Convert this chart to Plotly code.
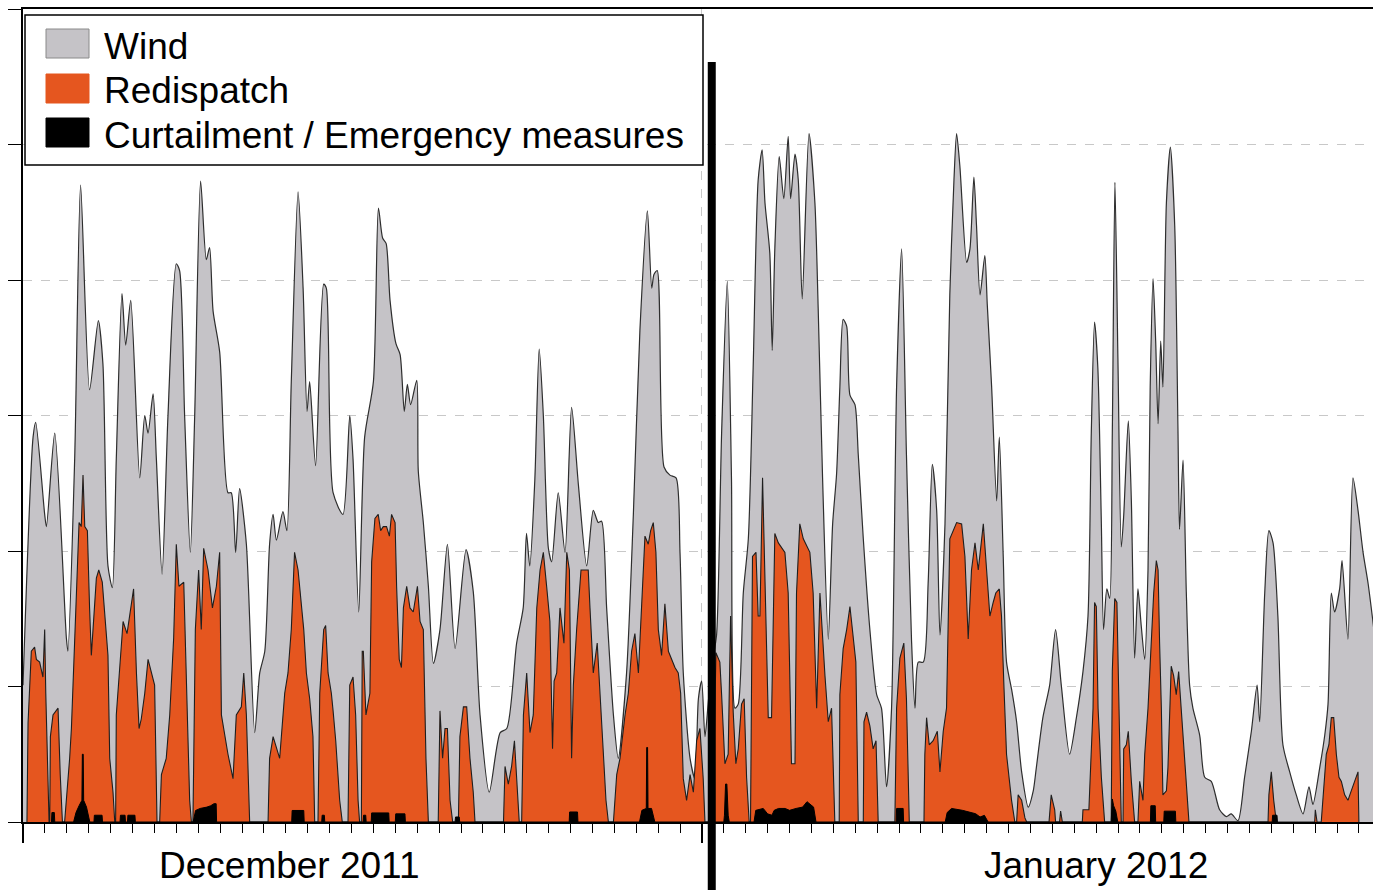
import pandas as pd
import plotly.graph_objects as go

BASE = pd.Timestamp("2011-12-01")

# ---- Wind generation (days since 1 Dec 2011, value) ----
wind_days = [0.00, 0.46, 0.58, 0.99, 1.07, 1.45, 1.98, 2.05, 2.36, 2.63, 3.04, 3.44, 3.65, 3.88, 4.08, 4.26,
             4.52, 4.69, 4.92, 5.33, 5.56, 5.71, 5.94, 6.09, 6.35, 6.62, 7.00, 7.15, 7.38, 7.64, 7.84, 8.11,
             8.37, 8.52, 8.68, 8.98, 9.36, 9.51, 9.71, 9.89, 10.20, 10.58, 10.81, 11.04, 11.26, 11.42, 11.57,
             11.87, 12.05, 12.25, 12.56, 12.79, 12.97, 13.09, 13.36, 13.73, 13.85, 14.16, 14.61, 14.92, 15.07,
             15.33, 15.60, 16.00, 16.23, 16.42, 16.58, 16.76, 17.03, 17.22, 17.41, 17.55, 17.70, 17.98, 18.05,
             18.28, 18.51, 18.74, 19.04, 19.38, 19.73, 20.23, 20.56, 20.87, 21.29, 21.79, 22.09, 22.54, 22.84,
             22.99, 23.14, 23.37, 23.57, 23.76, 23.99, 24.14, 24.44, 24.75, 25.05, 25.36, 25.74, 26.04, 26.27,
             26.42, 26.65, 26.96, 27.18, 27.56, 27.87, 28.17, 28.51, 28.71, 28.81, 28.96, 29.27, 29.54, 29.82,
             30.00, 30.15, 30.46, 30.68, 30.84, 30.99, 31.14, 31.30, 31.50, 31.67, 31.90, 32.16, 32.35, 32.51,
             32.66, 32.89, 33.12, 33.34, 33.57, 33.75, 33.88, 34.10, 34.21, 34.33, 34.53, 34.74, 34.94, 35.05,
             35.25, 35.40, 35.58, 35.89, 36.16, 36.31, 36.51, 36.77, 36.97, 37.15, 37.30, 37.45, 37.61, 37.76,
             37.99, 38.14, 38.37, 38.67, 38.98, 39.20, 39.43, 39.66, 39.89, 40.12, 40.34, 40.57, 40.73, 40.88,
             41.11, 41.33, 41.52, 41.72, 41.87, 42.10, 42.32, 42.51, 42.63, 42.78, 43.09, 43.24, 43.42, 43.54,
             43.70, 43.92, 44.03, 44.23, 44.46, 44.58, 44.76, 44.91, 45.14, 45.37, 45.60, 45.90, 46.13, 46.27,
             46.57, 46.88, 47.15, 47.41, 47.79, 48.10, 48.40, 48.63, 48.78, 48.93, 49.08, 49.24, 49.34, 49.49,
             49.62, 49.74, 49.86, 50.00, 50.15, 50.26, 50.47, 50.61, 50.76, 50.91, 51.06, 51.22, 51.37, 51.47,
             51.60, 51.72, 51.83, 51.95, 52.05, 52.21, 52.39, 52.59, 52.74, 52.81, 52.97, 53.12, 53.27, 53.42,
             53.73, 53.96, 54.26, 54.64, 54.95, 55.17, 55.48, 55.78, 56.09, 56.35, 56.47, 56.70, 56.89, 57.08,
             57.30, 57.53, 57.84, 58.14, 58.45, 58.72, 58.90, 59.21, 59.44, 59.59, 59.74, 59.89, 60.12, 60.23,
             60.50, 60.73, 60.96, 61.19, 61.42, 61.70]
wind_vals = [1.01, 2.84, 2.95, 2.27, 2.18, 2.87, 1.36, 1.26, 2.68, 4.70, 3.19, 3.70, 3.38, 1.89, 1.73, 2.68,
             3.90, 3.52, 3.85, 2.54, 3.00, 2.87, 3.16, 2.68, 1.83, 3.00, 4.12, 4.07, 3.00, 1.99, 3.00, 4.73,
             4.15, 4.24, 3.77, 3.47, 2.43, 2.43, 1.99, 2.46, 2.05, 0.66, 1.10, 1.26, 2.05, 2.27, 2.08,
             2.29, 2.15, 3.25, 4.65, 3.94, 3.03, 3.25, 2.63, 3.97, 3.94, 2.43, 2.27, 3.00, 2.68,
             1.55, 2.84, 3.25, 4.53, 4.31, 4.27, 3.85, 3.53, 3.45, 3.03, 3.23, 3.08, 3.26, 2.59,
             2.21, 1.74, 1.17, 1.42, 2.05, 1.28, 2.01, 1.70, 0.79, 0.22, 0.66, 0.69, 1.32, 1.58,
             2.13, 1.89, 2.52, 3.49, 3.00, 2.02, 1.92, 2.43, 1.99, 3.06, 2.49, 1.89, 2.30, 2.21,
             2.22, 1.58, 0.79, 0.47, 1.10, 2.27, 3.63, 4.51, 3.94, 4.04, 4.07, 2.62, 2.56, 2.54,
             1.99, 1.10, 0.47, 0.32, 0.91, 1.04, 0.63, 0.90, 1.20, 1.38, 2.87, 3.99, 2.54, 0.84,
             0.87, 1.69, 2.09, 3.35, 4.74, 4.96, 4.57, 4.20, 3.48, 4.23, 4.91, 4.60, 5.06, 4.60,
             4.93, 4.74, 3.86, 5.08, 4.57, 3.79, 2.54, 1.35, 2.20, 2.57, 3.21, 3.71, 3.66, 3.15,
             3.08, 2.71, 2.09, 1.42, 0.94, 0.84, 0.26, 0.84, 3.21, 4.23, 2.71, 1.35, 0.84, 1.18,
             1.18, 1.76, 2.64, 2.30, 1.38, 2.20, 3.89, 4.74, 5.08, 4.84, 4.13, 4.23, 4.76, 4.40,
             3.89, 4.18, 3.82, 3.21, 2.37, 2.84, 1.96, 1.18, 0.98, 0.74, 0.37, 0.11, 0.23, 0.40,
             0.77, 1.01, 1.42, 1.01, 0.50, 0.77, 1.11, 1.52, 2.87, 3.69, 3.35, 2.20, 1.42, 1.72,
             1.65, 2.87, 4.72, 3.38, 2.03, 2.26, 2.96, 2.37, 1.21, 1.72, 1.45, 1.20, 1.86, 3.21,
             4.01, 3.55, 2.94, 3.55, 3.21, 4.57, 4.98, 4.40, 2.87, 2.16, 2.67, 1.69, 1.01, 0.84,
             0.64, 0.33, 0.30, 0.09, 0.04, 0.06, 0.01, 0.33, 0.67, 1.01, 0.74, 1.69, 2.15, 2.06,
             1.52, 0.57, 0.37, 0.20, 0.06, 0.26, 0.13, 0.40, 0.64, 0.87, 1.69, 1.55, 1.72, 1.93,
             1.35, 2.54, 2.30, 1.99, 1.76, 1.40]

# ---- Redispatch (days since 1 Dec 2011, value) ----
red_days = [0.18, 0.23, 0.38, 0.53, 0.61, 0.76, 0.91, 0.99, 1.04, 1.14, 1.19,
            1.22, 1.25, 1.37, 1.60, 1.70, 1.80,
            1.90, 1.98, 2.13, 2.21, 2.31, 2.44, 2.56, 2.66, 2.74, 2.82, 2.94, 3.04, 3.12, 3.35, 3.46, 3.62,
            3.77, 3.88, 3.96, 4.11, 4.19,
            4.23, 4.26, 4.41, 4.57, 4.75, 4.90, 5.05, 5.18, 5.30, 5.40, 5.56, 5.71, 5.86, 6.01, 6.12,
            6.24, 6.32, 6.54, 6.70, 6.88, 7.00, 7.12, 7.34, 7.46, 7.61, 7.69,
            7.76, 7.87, 8.02, 8.14, 8.25, 8.45, 8.65, 8.83, 8.98, 9.06, 9.21, 9.36, 9.59, 9.74, 9.97,
            10.08, 10.20, 10.35,
            11.19, 11.26, 11.42, 11.72, 11.95, 12.10, 12.25, 12.40, 12.56, 12.71, 12.82, 12.94, 13.09,
            13.24, 13.32,
            13.47, 13.55, 13.73, 13.82, 13.93, 14.08, 14.16, 14.28, 14.46, 14.58,
            14.84, 14.92, 15.07, 15.19, 15.30, 15.37,
            15.45, 15.49, 15.54, 15.66, 15.84, 15.92, 16.07, 16.22, 16.33, 16.45, 16.60, 16.73, 16.83,
            16.99, 17.06, 17.18, 17.28, 17.37, 17.52, 17.67, 17.82, 18.01, 18.13, 18.28, 18.40, 18.51,
            18.96, 19.04, 19.16, 19.27, 19.38, 19.50, 19.62,
            19.88, 19.95, 20.11, 20.26, 20.41, 20.56, 20.64,
            21.94, 22.01, 22.16, 22.31, 22.44, 22.54, 22.66,
            22.77, 22.85, 23.00, 23.15, 23.30, 23.46, 23.61, 23.76, 23.91, 24.06, 24.18, 24.25, 24.37,
            24.52, 24.70, 24.83, 24.95, 25.05, 25.13, 25.28, 25.48, 25.81, 25.89, 26.04, 26.22, 26.34,
            26.50, 26.62, 26.73,
            26.96, 27.11, 27.26, 27.49, 27.64, 27.79, 27.94, 28.10, 28.25, 28.40, 28.55, 28.66, 28.78,
            28.90, 29.01, 29.16, 29.31, 29.47, 29.77, 29.92, 30.03, 30.15, 30.30, 30.46, 30.61, 30.76,
            30.91, 31.06, 31.14,
            31.50, 31.64, 31.82, 31.90, 32.05, 32.20, 32.31, 32.43, 32.55, 32.66, 32.81, 32.93, 33.04, 33.16,
            33.22, 33.31, 33.47, 33.57, 33.65, 33.77, 33.88, 34.03, 34.18, 34.33, 34.49, 34.79, 34.94,
            35.02, 35.09, 35.25, 35.32, 35.47, 35.63, 35.93, 36.08, 36.24, 36.39, 36.62, 36.77, 36.92, 37.07,
            37.27, 37.30, 37.45, 37.61, 37.76, 37.91, 38.03, 38.14,
            38.37, 38.40, 38.52, 38.67, 38.82, 38.95, 39.05,
            39.81, 39.89, 40.04, 40.22, 40.34, 40.47,
            41.14, 41.18, 41.26, 41.38, 41.56, 41.75, 41.87, 42.02, 42.17, 42.32, 42.63, 42.86, 43.01,
            43.16, 43.31, 43.47, 43.62, 43.85, 44.00, 44.15, 44.30, 44.42, 44.58, 44.68, 44.79, 44.91,
            45.14, 45.29,
            45.37, 45.44, 45.60, 45.75, 45.83,
            46.85, 46.95, 47.11, 47.15,
            47.33, 47.38, 47.46,
            48.37, 48.40, 48.67, 48.78, 48.86, 48.93, 49.01, 49.09, 49.24, 49.39,
            49.69, 49.74, 49.85, 49.95, 50.04, 50.15,
            50.23, 50.26, 50.38, 50.47, 50.61, 50.76,
            50.91, 50.99, 51.14, 51.22, 51.37, 51.52, 51.63, 51.75, 51.83, 51.90, 51.98, 52.05, 52.21,
            52.28, 52.43, 52.54, 52.66, 52.77, 52.89, 53.04, 53.15, 53.24,
            56.85, 56.89, 57.00, 57.11, 57.23,
            58.98, 59.01, 59.09,
            59.28, 59.36, 59.51, 59.63, 59.74, 59.85, 59.97, 60.09, 60.20, 60.35, 60.50, 60.65, 60.81,
            60.96, 61.00]
red_vals = [0, 0.73, 1.26, 1.29, 1.20, 1.18, 1.07, 1.42, 0.95, 0.22, 0,
            0, 0.63, 0.79, 0.84, 0.35, 0,
            0, 0.16, 0.47, 0.69, 1.10, 1.74, 2.21, 2.18, 2.56, 2.18, 2.15, 1.58, 1.23, 1.80, 1.86, 1.77,
            1.42, 1.23, 0.47, 0.22, 0,
            0, 0.79, 1.10, 1.48, 1.39, 1.55, 1.72, 1.10, 0.69, 0.76, 0.95, 1.20, 1.10, 1.01, 0,
            0, 0.35, 0.47, 0.79, 1.36, 2.05, 1.74, 1.77, 1.10, 0.16, 0,
            0, 1.42, 1.86, 1.42, 2.02, 1.86, 1.58, 1.74, 1.99, 0.79, 0.63, 0.50, 0.32, 0.79, 0.85,
            1.10, 0.79, 0,
            0, 0.47, 0.63, 0.47, 0.95, 1.10, 1.42, 1.99, 1.86, 1.61, 1.42, 1.10, 0.91,
            0.63, 0,
            0, 0.95, 1.42, 1.45, 1.10, 0.95, 0.82, 0.60, 0.16, 0,
            0, 1.01, 1.07, 0.79, 0.16, 0,
            0, 1.26, 1.26, 0.79, 0.95, 1.92, 2.24, 2.27, 2.15, 2.18, 2.18, 2.11, 2.27,
            2.21, 1.74, 1.20, 1.14, 1.58, 1.74, 1.58, 1.55, 1.74, 1.48, 1.42, 0.47, 0,
            0, 0.82, 0.47, 0.69, 0.69, 0.16, 0,
            0, 0.63, 0.85, 0.85, 0.47, 0.22, 0,
            0, 0.41, 0.28, 0.41, 0.60, 0.32, 0,
            0, 0.79, 1.10, 0.66, 0.79, 1.58, 1.86, 1.99, 1.74, 1.48, 0.54, 1.04, 1.10,
            1.58, 1.32, 1.99, 1.86, 0.47, 1.01, 1.42, 1.86, 1.86, 1.58, 1.10, 1.32, 0.95,
            0.47, 0.16, 0,
            0, 0.35, 0.47, 0.79, 0.95, 1.26, 1.39, 1.10, 1.58, 2.11, 2.05, 2.15, 2.21,
            1.99, 1.42, 1.23, 1.61, 1.26, 1.14, 1.10, 0.95, 0.32, 0.16, 0.35, 0.22, 0.60,
            0.69, 0.32, 0,
            0, 1.25, 1.18, 0.94, 0.43, 0.50, 1.52, 0.81, 0.43, 0.54, 0.87, 0.91, 0.33, 0,
            0, 1.96, 1.99, 1.52, 1.52, 2.54, 1.86, 0.77, 0.77, 2.13, 2.06, 1.99, 1.69,
            0.84, 0.43, 0.43, 1.69, 2.20, 2.09, 1.99, 1.69, 0.84, 1.69, 1.08, 0.74, 0.84, 0,
            0, 0.94, 1.28, 1.42, 1.59, 1.35, 1.18, 0,
            0, 0.74, 0.81, 0.71, 0.54, 0.60, 0,
            0, 0.84, 1.21, 1.32, 0.91, 0,
            0, 0.50, 0.77, 0.57, 0.60, 0.67, 0.37, 0.67, 0.84, 2.09, 2.21, 2.20, 1.96,
            1.35, 1.86, 2.06, 1.86, 2.20, 1.86, 1.52, 1.62, 1.69, 1.72, 1.52, 1.01, 0.50,
            0.16, 0,
            0, 0.20, 0.16, 0.03, 0,
            0, 0.20, 0.09, 0,
            0, 0.08, 0,
            0, 0.09, 0.09, 0.50, 0.84, 1.62, 1.59, 0.84, 0.33, 0,
            0, 1.11, 1.65, 1.62, 0.84, 0,
            0, 0.54, 0.57, 0.67, 0.30, 0,
            0, 0.30, 0.16, 0.50, 0.84, 1.35, 1.69, 1.93, 1.86, 1.32, 0.84, 0.20, 0.23,
            0.40, 1.15, 1.08, 0.94, 1.11, 0.84, 0.50, 0.23, 0,
            0, 0.20, 0.37, 0.16, 0,
            0, 0.09, 0,
            0, 0.20, 0.50, 0.57, 0.77, 0.77, 0.50, 0.33, 0.30, 0.20, 0.16, 0.23, 0.30,
            0.37, 0]

# ---- Curtailment / emergency measures (days since 1 Dec 2011, value) ----
curt_days = [1.30, 1.32, 1.43, 1.45,
             2.31, 2.42, 2.56, 2.69, 2.71, 2.75, 2.77, 2.90, 3.05,
             3.24, 3.26, 3.61, 3.63, 4.43, 4.45, 4.66, 4.68, 4.77, 4.79, 5.11, 5.13,
             7.77, 7.88, 8.09, 8.40, 8.57, 8.72, 8.82, 8.84,
             12.27, 12.29, 12.82, 12.84, 13.64, 13.66, 13.76, 13.78, 15.53, 15.55, 15.65, 15.67,
             15.90, 15.92, 16.70, 16.72, 17.00, 17.02, 17.44, 17.46, 19.73, 19.75, 19.92, 19.94,
             24.94, 24.96, 25.32, 25.34,
             28.15, 28.26, 28.40, 28.46, 28.48, 28.52, 28.54, 28.70, 28.85,
             32.00, 32.03, 32.08, 32.14, 32.20, 32.25,
             33.38, 33.46, 33.80, 34.00, 34.20, 34.30, 34.50, 34.80, 35.00, 35.30, 35.60, 35.80, 35.95,
             36.10, 36.21,
             39.87, 39.89, 40.19, 40.21,
             42.11, 42.20, 42.40, 42.90, 43.20, 43.50, 43.70, 43.90, 44.07,
             49.69, 49.74, 49.80, 49.90, 49.99,
             51.48, 51.50, 51.70, 51.72,
             52.09, 52.11, 52.62, 52.64,
             57.04, 57.06, 57.26, 57.28]
curt_vals = [0, 0.07, 0.07, 0,
             0, 0.07, 0.12, 0.16, 0.50, 0.50, 0.16, 0.11, 0,
             0, 0.05, 0.05, 0, 0, 0.05, 0.05, 0, 0, 0.05, 0.05, 0,
             0, 0.085, 0.10, 0.11, 0.12, 0.135, 0.135, 0,
             0, 0.085, 0.085, 0, 0, 0.05, 0.05, 0, 0, 0.05, 0.05, 0,
             0, 0.067, 0.067, 0, 0, 0.06, 0.06, 0, 0, 0.037, 0.037, 0,
             0, 0.074, 0.074, 0,
             0, 0.086, 0.10, 0.10, 0.55, 0.55, 0.10, 0.10, 0,
             0, 0.05, 0.28, 0.28, 0.05, 0,
             0, 0.086, 0.10, 0.06, 0.05, 0.086, 0.10, 0.10, 0.086, 0.10, 0.11, 0.15, 0.13,
             0.11, 0,
             0, 0.10, 0.10, 0,
             0, 0.07, 0.10, 0.086, 0.074, 0.061, 0.037, 0.049, 0,
             0, 0.17, 0.12, 0.08, 0,
             0, 0.12, 0.12, 0,
             0, 0.08, 0.08, 0,
             0, 0.05, 0.05, 0]

legend_labels = ["Wind", "Redispatch", "Curtailment / Emergency measures"]
month_labels = ["December 2011", "January 2012"]
month_label_days = [12.19, 49.0]
month_starts = ["2011-12-01", "2012-01-01", "2012-02-01"]
separator_day = 31.45
y_ticks = [0, 1, 2, 3, 4, 5, 6]

GRAY = "#c5c3c7"
ORANGE = "#e5561f"
BLACK = "#000000"
FONT = "Liberation Sans, Arial, Helvetica, sans-serif"


def to_dates(days):
    return BASE + pd.to_timedelta(days, unit="D")


fig = go.Figure()
fig.add_trace(go.Scatter(x=to_dates(wind_days), y=wind_vals, mode="lines", fill="tozeroy",
                         fillcolor=GRAY, line=dict(color="#2e2e2e", width=1.2, shape="spline", smoothing=0.7),
                         name=legend_labels[0], showlegend=False, hoverinfo="skip"))
fig.add_trace(go.Scatter(x=to_dates(red_days), y=red_vals, mode="lines", fill="tozeroy",
                         fillcolor=ORANGE, line=dict(color="#1e1e1e", width=1.1),
                         name=legend_labels[1], showlegend=False, hoverinfo="skip"))
fig.add_trace(go.Scatter(x=to_dates(curt_days), y=curt_vals, mode="lines", fill="tozeroy",
                         fillcolor=BLACK, line=dict(color=BLACK, width=1.0),
                         name=legend_labels[2], showlegend=False, hoverinfo="skip"))

W, H = 1373, 890
ML, MR, MT, MB = 23, 0, 9, 68
pw, ph = W - ML - MR, H - MT - MB


def px_x(p):
    return (p - ML) / pw


def px_y(p):
    return (H - MB - p) / ph


shapes = []
# legend box
shapes.append(dict(type="rect", xref="paper", yref="paper", x0=px_x(25), x1=px_x(703),
                   y0=px_y(165), y1=px_y(15), fillcolor="white",
                   line=dict(color="black", width=1.5), layer="above"))
swatch_colors = [GRAY, ORANGE, BLACK]
swatch_tops = [29, 74, 118]
for c, t in zip(swatch_colors, swatch_tops):
    shapes.append(dict(type="rect", xref="paper", yref="paper", x0=px_x(46), x1=px_x(89),
                       y0=px_y(t + 29), y1=px_y(t), fillcolor=c,
                       line=dict(color="#8a8a8a" if c == GRAY else c, width=1), layer="above"))
# thick separator bar between months
shapes.append(dict(type="line", xref="x", yref="paper",
                   x0=to_dates([separator_day])[0], x1=to_dates([separator_day])[0],
                   y0=px_y(892), y1=px_y(62), line=dict(color="black", width=8), layer="above"))

annotations = []
for lab, t in zip(legend_labels, swatch_tops):
    annotations.append(dict(text=lab, xref="paper", yref="paper", x=px_x(102), y=px_y(t + 17),
                            xanchor="left", yanchor="middle", showarrow=False,
                            font=dict(family=FONT, size=37, color="black")))
for lab, d in zip(month_labels, month_label_days):
    annotations.append(dict(text=lab, xref="x", yref="paper", x=to_dates([d])[0], y=px_y(865),
                            xanchor="center", yanchor="middle", showarrow=False,
                            font=dict(family=FONT, size=37, color="black")))

x_end = BASE + pd.to_timedelta(pw / 21.9, unit="D")

fig.update_layout(
    width=W, height=H,
    margin=dict(l=ML, r=MR, t=MT, b=MB, pad=0),
    paper_bgcolor="white", plot_bgcolor="white",
    font=dict(family=FONT, color="black"),
    shapes=shapes, annotations=annotations,
    showlegend=False,
    xaxis=dict(type="date", range=[BASE, x_end],
               tickvals=month_starts, ticks="outside", ticklen=19, tickwidth=1.5, tickcolor="black",
               showticklabels=False,
               showgrid=True, gridcolor="#c8c8c8", griddash="dash", gridwidth=1,
               minor=dict(dtick=86400000, tick0="2011-12-01", ticks="outside", ticklen=9,
                          tickwidth=1.3, tickcolor="black", showgrid=False),
               showline=True, linecolor="black", linewidth=1.5, mirror=True, zeroline=False),
    yaxis=dict(range=[0, 6], tickvals=y_ticks, ticks="outside", ticklen=13, tickwidth=1.3,
               tickcolor="black", showticklabels=False,
               showgrid=True, gridcolor="#c8c8c8", griddash="dash", gridwidth=1,
               showline=True, linecolor="black", linewidth=1.5, zeroline=False),
)

fig.write_html("out.html", config={"displayModeBar": False},
               post_script="document.body.style.margin='0';")
